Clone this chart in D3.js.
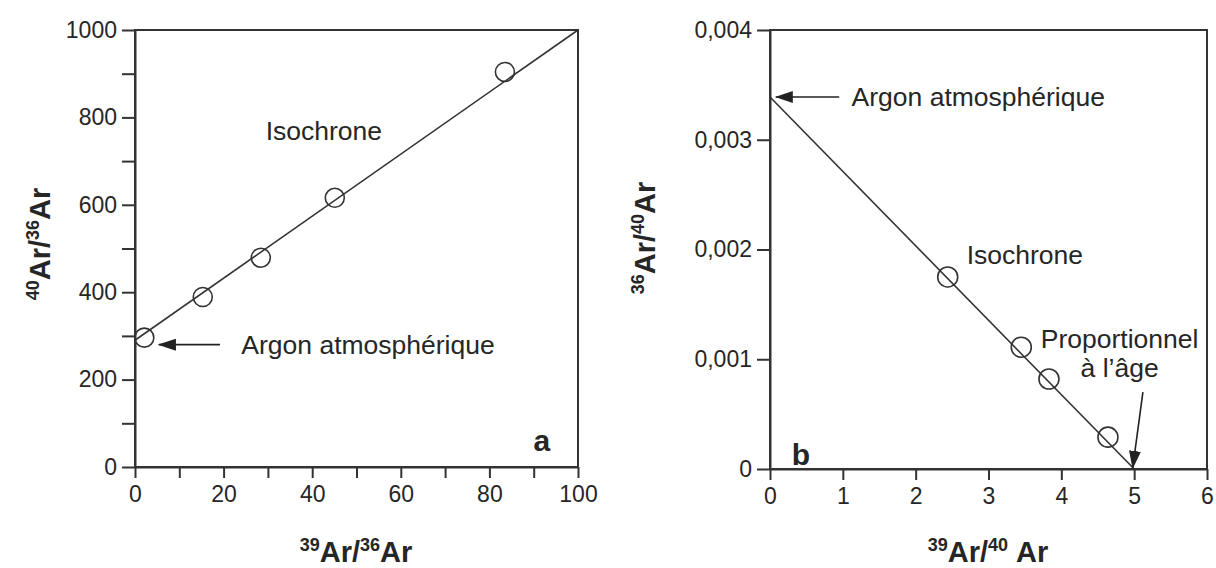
<!DOCTYPE html>
<html>
<head>
<script src="https://cdn.jsdelivr.net/npm/d3@7"></script>
<style>
    body { margin: 0; background: #fff; }
    text { font-family: "Liberation Sans", Arial, sans-serif; fill: #262626; }
    .axis path, .axis line { stroke: #333; stroke-width: 2; }
    .axis text { font-size: 23px; fill: #262626; font-family: "Liberation Sans", Arial, sans-serif; }
</style>
</head>
<body>
<script>
// panel a : 40Ar/36Ar vs 39Ar/36Ar
var ratioA = [2.1, 15.3, 28.4, 45.1, 83.5];
var argonA = [296, 389, 479, 616, 904];
var isoA_x = [0, 100];
var isoA_y = [290, 1000];

// panel b : 36Ar/40Ar vs 39Ar/40Ar
var ratioB = [2.44, 3.45, 3.83, 4.64];
var argonB = [0.00175, 0.00111, 0.00082, 0.00029];
var isoB_x = [0, 5];
var isoB_y = [0.00339, 0];

var ticksA_x = d3.range(0, 101, 10);
var ticksA_y = d3.range(0, 1001, 100);
var ticksB_x = [0, 1, 2, 3, 4, 5, 6];
var ticksB_y = [0, 0.001, 0.002, 0.003, 0.004];

var width = 1216, height = 568;

var svg = d3.select('body').append('svg')
    .attr('width', width)
    .attr('height', height);

var defs = svg.append('defs');
defs.append('marker')
    .attr('id', 'head')
    .attr('markerUnits', 'userSpaceOnUse')
    .attr('viewBox', '0 -7 18 14')
    .attr('refX', 17).attr('refY', 0)
    .attr('markerWidth', 18).attr('markerHeight', 14)
    .attr('orient', 'auto')
    .append('path')
    .attr('d', 'M0,-6L18,0L0,6Z')
    .attr('fill', '#222');

// scales
var xA = d3.scaleLinear().domain([0, 100]).range([135, 578]);
var yA = d3.scaleLinear().domain([0, 1000]).range([467, 30]);
var xB = d3.scaleLinear().domain([0, 6]).range([770, 1207]);
var yB = d3.scaleLinear().domain([0, 0.004]).range([469, 30]);

function drawPanel(x, y, xt, yt, xfmt, yfmt) {
    var g = svg.append('g');
    // frame
    g.append('rect')
        .attr('x', x.range()[0]).attr('y', y.range()[1])
        .attr('width', x.range()[1] - x.range()[0])
        .attr('height', y.range()[0] - y.range()[1])
        .attr('fill', 'none').attr('stroke', '#333').attr('stroke-width', 2);

    g.append('g').attr('class', 'axis')
        .attr('transform', 'translate(0,' + y.range()[0] + ')')
        .call(d3.axisBottom(x).tickValues(xt).tickFormat(xfmt).tickSize(11).tickSizeOuter(0).tickPadding(8));

    g.append('g').attr('class', 'axis')
        .attr('transform', 'translate(' + x.range()[0] + ',0)')
        .call(d3.axisLeft(y).tickValues(yt).tickFormat(yfmt).tickSize(13).tickSizeOuter(0).tickPadding(5));
    return g;
}

var gA = drawPanel(xA, yA, ticksA_x, ticksA_y,
    d => d % 20 === 0 ? d : '',
    d => d % 200 === 0 ? d : '');
var gB = drawPanel(xB, yB, ticksB_x, ticksB_y,
    d => d,
    d => d === 0 ? '0' : d3.format('.3f')(d).replace('.', ','));

// isochrone lines
var lineA = d3.line().x(d => xA(d[0])).y(d => yA(d[1]));
gA.append('path')
    .datum(d3.zip(isoA_x, isoA_y))
    .attr('d', lineA)
    .attr('fill', 'none').attr('stroke', '#333').attr('stroke-width', 1.6);

var lineB = d3.line().x(d => xB(d[0])).y(d => yB(d[1]));
gB.append('path')
    .datum(d3.zip(isoB_x, isoB_y))
    .attr('d', lineB)
    .attr('fill', 'none').attr('stroke', '#333').attr('stroke-width', 1.6);

// points
gA.selectAll('circle')
    .data(d3.zip(ratioA, argonA))
    .enter().append('circle')
    .attr('cx', d => xA(d[0])).attr('cy', d => yA(d[1]))
    .attr('r', 9.5)
    .attr('fill', 'none').attr('stroke', '#333').attr('stroke-width', 1.6);

gB.selectAll('circle')
    .data(d3.zip(ratioB, argonB))
    .enter().append('circle')
    .attr('cx', d => xB(d[0])).attr('cy', d => yB(d[1]))
    .attr('r', 10)
    .attr('fill', 'none').attr('stroke', '#333').attr('stroke-width', 1.6);

// arrows
function arrow(g, x, y, from, to) {
    g.append('line')
        .attr('x1', x(from[0])).attr('y1', y(from[1]))
        .attr('x2', x(to[0])).attr('y2', y(to[1]))
        .attr('stroke', '#222').attr('stroke-width', 1.6)
        .attr('marker-end', 'url(#head)');
}
arrow(gA, xA, yA, [19.2, 280], [5.4, 280]);
arrow(gB, xB, yB, [0.95, 0.00339], [0.08, 0.00339]);
arrow(gB, xB, yB, [5.12, 0.0007], [4.98, 0.00001]);

// annotations
function note(g, px, py, txt, anchor) {
    g.append('text')
        .attr('x', px).attr('y', py)
        .attr('text-anchor', anchor || 'start')
        .style('font-size', '26.5px')
        .text(txt);
}
note(gA, xA(29.5), yA(768) + 9, 'Isochrone');
note(gA, xA(24), yA(280) + 9, 'Argon atmosphérique');
note(gB, xB(1.12), yB(0.00339) + 9, 'Argon atmosphérique');
note(gB, xB(2.7), yB(0.00195) + 9, 'Isochrone');
note(gB, xB(4.8), yB(0.00118) + 9, 'Proportionnel', 'middle');
note(gB, xB(4.8), yB(0.00092) + 9, 'à l’âge', 'middle');

// panel letters
gA.append('text').attr('x', xA(93.7)).attr('y', yA(36))
    .attr('text-anchor', 'end')
    .style('font-size', '30px').style('font-weight', 'bold').text('a');
gB.append('text').attr('x', xB(0.3)).attr('y', yB(0.00004))
    .style('font-size', '30px').style('font-weight', 'bold').text('b');

// axis titles with superscripts
function title(parts, tx, ty, rot) {
    var t = svg.append('text')
        .attr('transform', 'translate(' + tx + ',' + ty + ')' + (rot ? ' rotate(-90)' : ''))
        .attr('text-anchor', 'middle')
        .style('font-weight', 'bold');
    parts.forEach(function (p) {
        t.append('tspan')
            .attr('dy', p[1] ? -11 : 11)
            .style('font-size', p[1] ? '18px' : '29px')
            .text(p[0]);
    });
    t.select('tspan').attr('dy', -11);
}
title([['39', 1], ['Ar/', 0], ['36', 1], ['Ar', 0]], 356, 562, false);
title([['39', 1], ['Ar/', 0], ['40', 1], ['\u00a0Ar', 0]], 988, 562, false);
title([['40', 1], ['Ar/', 0], ['36', 1], ['Ar', 0]], 50, 244, true);
title([['36', 1], ['Ar/', 0], ['40', 1], ['Ar', 0]], 655, 238, true);
</script>
</body>
</html>
